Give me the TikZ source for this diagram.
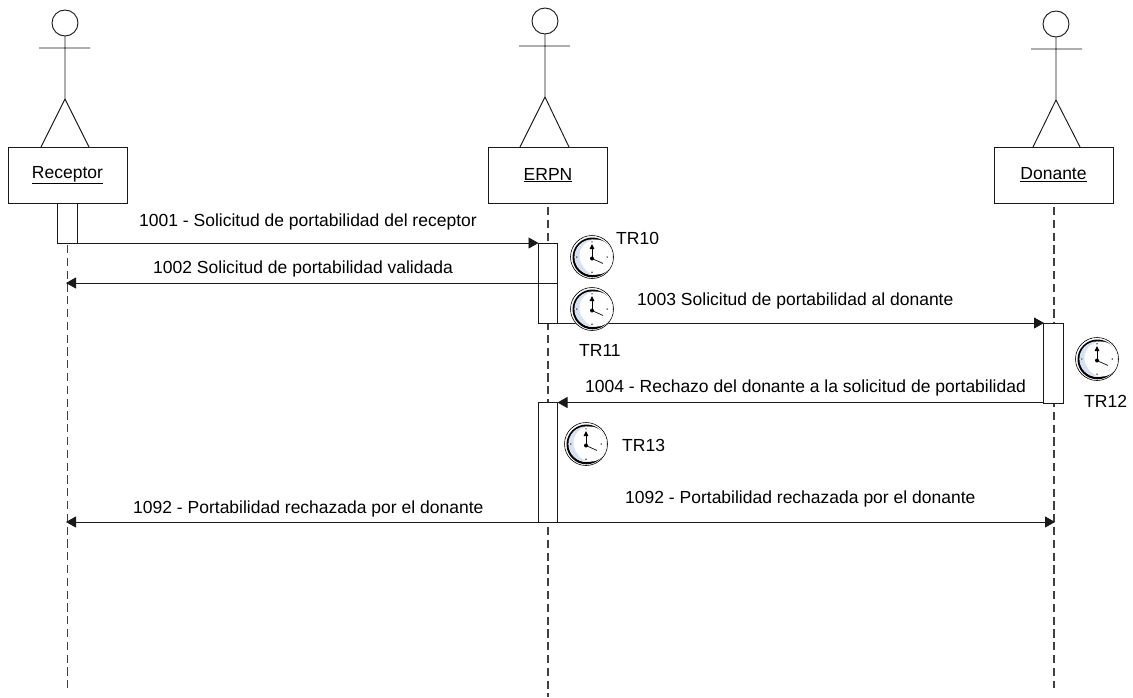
\documentclass[tikz,border=0pt]{standalone}
\usepackage{fontspec}
\setmainfont{Liberation Sans}
\usetikzlibrary{arrows.meta}
\definecolor{clockblue}{RGB}{214,226,243}
\tikzset{
 ln/.style={draw=black!90,line width=0.95pt},
 lifebox/.style={ln,fill=white,minimum width=119pt,minimum height=56pt,inner sep=0pt,font=\fontsize{17.5}{20}\selectfont},
 activ/.style={ln,fill=white,inner sep=0pt},
 life/.style={draw=black!75,line width=1.1pt,dash pattern=on 8.2pt off 4.6pt},
 msg/.style={ln,-{Triangle[length=10pt,width=11pt]}},
 lbl/.style={inner sep=0pt,anchor=base west,font=\fontsize{17.5}{20}\selectfont,text=black},
}
\newcommand{\actor}[7]{% headx heady armL armR hipy footL footR
 \draw[ln] (#1,#2) circle (13);
 \draw[ln] (#1,#2+13) -- (#1,#5) (#3,#2+25) -- (#4,#2+25) (#6,147) -- (#1,#5) -- (#7,147);}
\newcommand{\clock}[2]{%
 \begin{scope}[shift={(#1,#2)}]
 \fill[white] (0,0) circle (22);
 \draw[black,line width=0.6pt] (0,0) circle (21.5);
 \draw[black,line width=2.2pt] (0.4,0.4) circle (18.8);
 \fill[clockblue] (0,0) circle (17.6);
 \fill[white] (4,-1) circle (16.5);
 \fill[white] (5,2) circle (15.5);
 \draw[black,line width=1pt,-{Triangle[length=5pt,width=4.5pt]}] (0,1.5) -- (0,-13);
 \draw[black!85,line width=0.8pt] (0,1.5) -- (11,6.5);
 \fill[black] (0,1.5) circle (2);
 \foreach \a in {0,90,180,270} \fill[black!75] (\a:15.2) circle (0.8);
 \end{scope}}
\begin{document}
\begin{tikzpicture}[x=1pt,y=-1pt]
\useasboundingbox (0,0) rectangle (1133,697);
% lifelines
\coordinate (la) at (67.5,245); \coordinate (laE) at (67.5,688);
\coordinate (lb) at (548,207); \coordinate (lbE) at (548,697);
\coordinate (lc) at (1054,207); \coordinate (lcE) at (1054,688);
\draw[life] (la) -- (laE);
\draw[life] (lb) -- (lbE);
\draw[life] (lc) -- (lcE);
% actors
\actor{65}{23}{39}{90}{99}{41}{89}
\actor{545}{21}{519}{570}{97}{520}{569}
\actor{1056}{24}{1031}{1082}{100}{1033}{1080}
\node[lifebox] (rec) at (67.5,175) {\underline{Receptor}};
\node[lifebox] (erpn) at (548,175) {\underline{ERPN}};
\node[lifebox] (don) at (1053.5,175) {\underline{Donante}};
% activations
\node[activ,minimum width=20pt,minimum height=40pt] (a1) at (67,223) {};
\node[activ,minimum width=19.5pt,minimum height=80pt] (a2) at (548,283) {};
\node[activ,minimum width=19.5pt,minimum height=80pt] (a3) at (1053.5,363) {};
\node[activ,minimum width=19.5pt,minimum height=120pt] (a4) at (548,462.5) {};
% messages
\coordinate (m1a) at (77,243); \coordinate (m1b) at (538.5,243);
\draw[msg] (m1a) -- (m1b);
\coordinate (m2a) at (557.5,283); \coordinate (m2b) at (66,283);
\draw[msg] (m2a) -- (m2b);
\coordinate (m3a) at (557.5,323); \coordinate (m3b) at (1044,323);
\draw[msg] (m3a) -- (m3b);
\coordinate (m4a) at (1044,402.5); \coordinate (m4b) at (557.5,402.5);
\draw[msg] (m4a) -- (m4b);
\coordinate (m5a) at (538.5,522); \coordinate (m5b) at (66,522);
\draw[msg] (m5a) -- (m5b);
\coordinate (m6a) at (557.5,522); \coordinate (m6b) at (1055,522);
\draw[msg] (m6a) -- (m6b);
% clocks
\clock{592}{257}
\clock{592}{309}
\clock{1097}{359}
\clock{586}{444}
% labels
\node[lbl] (t1) at (139,226) {1001 - Solicitud de portabilidad del receptor};
\node[lbl] (t2) at (153,273) {1002 Solicitud de portabilidad validada};
\node[lbl] (t3) at (637,305) {1003 Solicitud de portabilidad al donante};
\node[lbl] (t4) at (585,392) {1004 - Rechazo del donante a la solicitud de portabilidad};
\node[lbl] (t5) at (133,513) {1092 - Portabilidad rechazada por el donante};
\node[lbl] (t6) at (625,503) {1092 - Portabilidad rechazada por el donante};
\node[lbl] (c1) at (616,244) {TR10};
\node[lbl] (c2) at (579,356) {TR11};
\node[lbl] (c3) at (1084,407) {TR12};
\node[lbl] (c4) at (622,451) {TR13};
\end{tikzpicture}
\end{document}
